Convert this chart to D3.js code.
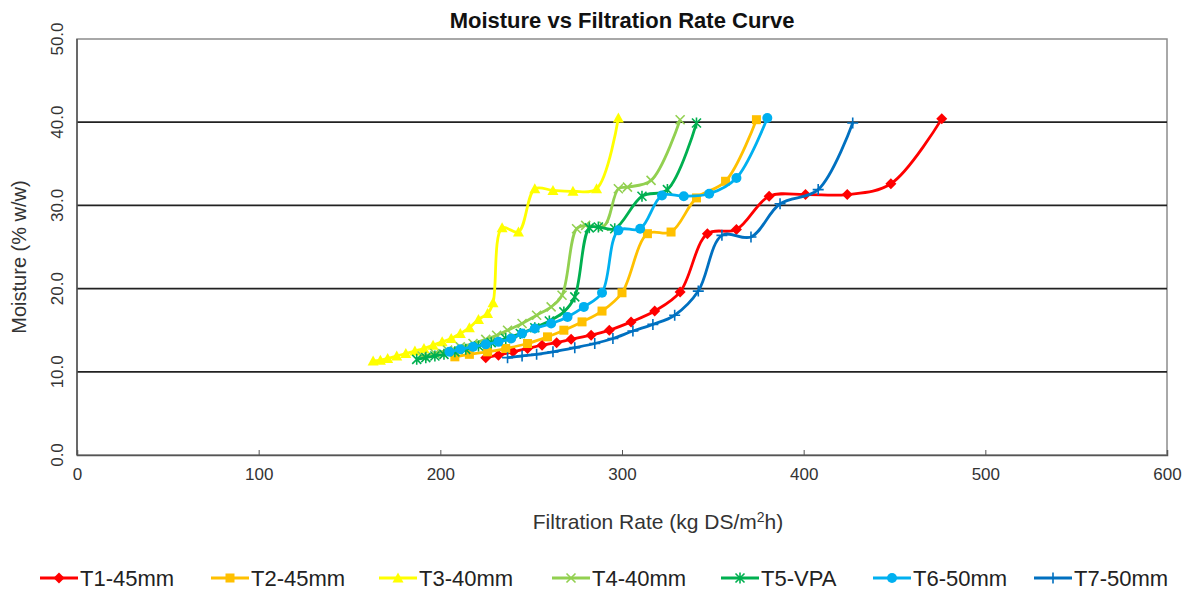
<!DOCTYPE html>
<html>
<head>
<meta charset="utf-8">
<script src="https://cdn.jsdelivr.net/npm/d3@7"></script>
<style>
  body { margin: 0; background: #fff; }
  svg { font-family: Arial, "Liberation Sans", sans-serif; }
</style>
</head>
<body>
<svg id="svg" width="1188" height="593"></svg>
<script>
// series names and data (filtration rate, moisture)
const names = ["T1-45mm", "T2-45mm", "T3-40mm", "T4-40mm", "T5-VPA", "T6-50mm", "T7-50mm"];
const colors = ["#ff0000", "#ffc000", "#ffff00", "#92d050", "#00b050", "#00b0f0", "#0070c0"];
const symbols = ["diamond", "square", "triangle", "x", "asterisk", "circle", "plus"];

const t1 = [[225,11.7],[232,12.0],[240,12.4],[248,12.8],[256,13.2],[264,13.5],[272,13.9],[283,14.4],[293,15.0],[305,16.0],[318,17.3],[332,19.6],[347,26.6],[363,27.1],[381,31.1],[401,31.3],[424,31.3],[448,32.6],[476,40.4]];
const t2 = [[208,11.8],[216,12.1],[226,12.4],[236,12.8],[248,13.4],[259,14.2],[268,15.0],[278,16.0],[289,17.3],[300,19.5],[314,26.6],[327,26.8],[341,30.9],[357,32.9],[374,40.3]];
const t3 = [[163,11.3],[167,11.4],[171,11.6],[176,11.9],[181,12.2],[186,12.5],[191,12.8],[196,13.2],[201,13.6],[206,14.0],[211,14.6],[216,15.3],[221,16.3],[226,17.0],[229,18.3],[234,27.3],[243,26.8],[252,32.0],[262,31.8],[273,31.7],[286,32.0],[298,40.5]];
const t4 = [[190,11.9],[197,12.2],[204,12.6],[211,13.0],[218,13.4],[225,13.9],[231,14.4],[237,15.0],[245,15.8],[253,16.8],[261,17.8],[267,19.2],[275,27.2],[280,27.6],[290,27.5],[298,32.0],[303,32.2],[316,33.0],[332,40.3]];
const t5 = [[187,11.5],[192,11.7],[197,11.9],[202,12.1],[208,12.4],[214,12.7],[221,13.1],[228,13.5],[236,14.0],[244,14.6],[252,15.3],[260,16.1],[268,17.2],[274,19.0],[282,27.3],[287,27.4],[296,27.2],[311,31.1],[325,31.9],[341,39.9]];
const t6 = [[205,12.4],[211,12.7],[218,13.0],[225,13.3],[232,13.6],[239,14.0],[245,14.6],[252,15.2],[261,15.8],[270,16.6],[279,17.8],[289,19.5],[298,27.0],[310,27.2],[322,31.2],[334,31.1],[348,31.4],[363,33.3],[380,40.5]];
const t7 = [[237,11.7],[245,11.9],[253,12.1],[262,12.4],[274,12.9],[285,13.4],[295,14.0],[306,14.9],[317,15.7],[329,16.8],[342,19.7],[355,26.4],[371,26.2],[387,30.2],[408,31.9],[427,39.9]];
const seriesData = [t1, t2, t3, t4, t5, t6, t7];

const xTicks = [0, 100, 200, 300, 400, 500, 600];
const yTicks = [0, 10, 20, 30, 40, 50];

const svg = d3.select("#svg");
const plotL = 77, plotR = 1167, plotT = 39, plotB = 455;

const x = d3.scaleLinear().domain([0, 600]).range([plotL, plotR]);
const y = d3.scaleLinear().domain([0, 50]).range([plotB, plotT]);

// title
svg.append("text").attr("x", 622).attr("y", 28).attr("text-anchor", "middle")
  .style("font-size", "22px").style("font-weight", "bold").attr("fill", "#111")
  .text("Moisture vs Filtration Rate Curve");

// plot area border
svg.append("rect").attr("x", plotL).attr("y", plotT).attr("width", plotR - plotL).attr("height", plotB - plotT)
  .attr("fill", "none").attr("stroke", "#8c8c8c").attr("stroke-width", 1.5);

// gridlines
yTicks.filter(d => d > 0 && d < 50).forEach(d => {
  svg.append("line").attr("x1", plotL).attr("x2", plotR).attr("y1", y(d)).attr("y2", y(d))
    .attr("stroke", "#222").attr("stroke-width", 1.8);
});

// x axis
const xAxis = svg.append("g").attr("transform", `translate(0,${plotB})`)
  .call(d3.axisBottom(x).tickValues(xTicks).tickSize(-5).tickPadding(13).tickFormat(d3.format("d")));
xAxis.select(".domain").attr("stroke", "#555").attr("stroke-width", 1.5);
xAxis.selectAll(".tick line").attr("stroke", "#555");
xAxis.selectAll("text").style("font-size", "17px").attr("fill", "#333");

// left axis line
svg.append("line").attr("x1", plotL).attr("x2", plotL).attr("y1", plotT).attr("y2", plotB)
  .attr("stroke", "#555").attr("stroke-width", 1.5);

// y tick labels (rotated)
yTicks.forEach(d => {
  svg.append("text").attr("transform", `translate(63,${y(d)}) rotate(-90)`)
    .attr("text-anchor", "middle").style("font-size", "17px").attr("fill", "#333")
    .text(d3.format(".1f")(d));
});

// axis titles
svg.append("text").attr("transform", "translate(26,257) rotate(-90)").attr("text-anchor", "middle")
  .style("font-size", "20px").attr("fill", "#333").text("Moisture (% w/w)");
const xt = svg.append("text").attr("x", 658).attr("y", 529).attr("text-anchor", "middle")
  .style("font-size", "21px").attr("fill", "#333");
xt.append("tspan").text("Filtration Rate (kg DS/m");
xt.append("tspan").attr("dy", -7).style("font-size", "14px").text("2");
xt.append("tspan").attr("dy", 7).text("h)");

// marker drawing
function drawMarker(sel, type, color, size) {
  const s = size / 2;
  if (type === "diamond") {
    sel.append("path").attr("d", `M0,${-s-1}L${s+1},0L0,${s+1}L${-s-1},0Z`).attr("fill", color);
  } else if (type === "square") {
    sel.append("rect").attr("x", -s).attr("y", -s).attr("width", size).attr("height", size).attr("fill", color);
  } else if (type === "triangle") {
    sel.append("path").attr("d", `M0,${-s-1}L${s+1},${s}L${-s-1},${s}Z`).attr("fill", color);
  } else if (type === "circle") {
    sel.append("circle").attr("r", s + 0.5).attr("fill", color);
  } else if (type === "x") {
    sel.append("path").attr("d", `M${-s},${-s}L${s},${s}M${-s},${s}L${s},${-s}`).attr("stroke", color).attr("stroke-width", 1.6);
  } else if (type === "asterisk") {
    sel.append("path").attr("d", `M${-s},${-s}L${s},${s}M${-s},${s}L${s},${-s}M0,${-s-1}L0,${s+1}`).attr("stroke", color).attr("stroke-width", 1.6);
  } else if (type === "plus") {
    sel.append("path").attr("d", `M${-s-1},0L${s+1},0M0,${-s-1}L0,${s+1}`).attr("stroke", color).attr("stroke-width", 1.6);
  }
}

const line = d3.line().x(d => x(d[0])).y(d => y(d[1])).curve(d3.curveCatmullRom.alpha(0.5));

seriesData.forEach((data, i) => {
  const g = svg.append("g");
  g.append("path").attr("d", line(data)).attr("fill", "none")
    .attr("stroke", colors[i]).attr("stroke-width", 2.8);
  data.forEach(d => {
    const m = g.append("g").attr("transform", `translate(${x(d[0])},${y(d[1])})`);
    drawMarker(m, symbols[i], colors[i], 9);
  });
});

// legend
const legendX = [40, 211, 379, 552, 721, 873, 1034];
names.forEach((n, i) => {
  const lg = svg.append("g").attr("transform", `translate(${legendX[i]},578)`);
  lg.append("line").attr("x1", 0).attr("x2", 38).attr("y1", 0).attr("y2", 0)
    .attr("stroke", colors[i]).attr("stroke-width", 2.8);
  drawMarker(lg.append("g").attr("transform", "translate(19,0)"), symbols[i], colors[i], 9);
  lg.append("text").attr("x", 40).attr("y", 8).style("font-size", "22px").attr("fill", "#222").text(n);
});
</script>
</body>
</html>
